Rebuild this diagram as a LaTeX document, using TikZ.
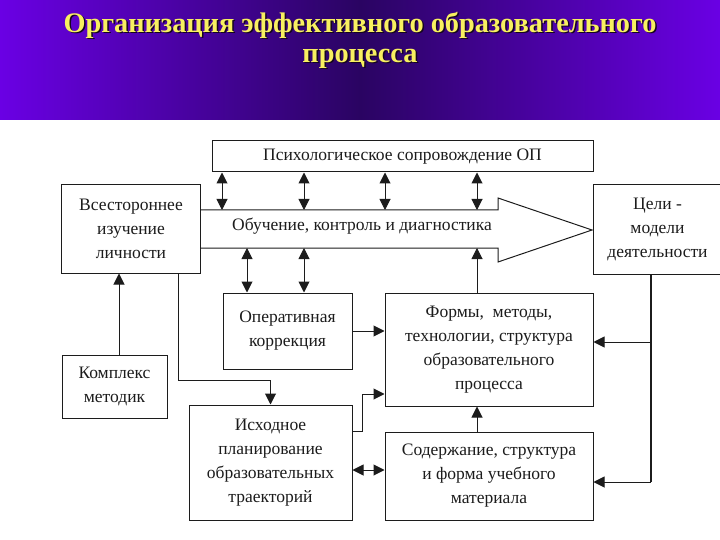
\documentclass[tikz,border=0pt]{standalone}
\usepackage{fontspec}
\setmainfont{Liberation Serif}
\usetikzlibrary{arrows.meta,calc,positioning}
\definecolor{OrgViolet}{HTML}{6A00E4}
\definecolor{OrgNight}{HTML}{2A0462}
\definecolor{OrgYellow}{HTML}{F8F060}
\definecolor{OrgShadow}{HTML}{16061E}
\definecolor{OrgInk}{HTML}{1C1C1C}
\tikzset{
  orgbox/.style={draw=OrgInk,line width=1pt,fill=white,align=center,inner sep=2pt,
    text=OrgInk,font=\fontsize{17.5}{24}\selectfont},
  orglabel/.style={align=center,inner sep=1pt,text=OrgInk,font=\fontsize{17.5}{24}\selectfont},
  orgtitle/.style={align=center,inner sep=0pt,font=\bfseries\fontsize{28.3}{30}\selectfont},
  orglink/.style={draw=OrgInk,line width=1pt,-{Triangle[length=11pt,width=11pt]}},
  orgboth/.style={draw=OrgInk,line width=1pt,
    {Triangle[length=11pt,width=11pt]}-{Triangle[length=11pt,width=11pt]}},
  orgline/.style={draw=OrgInk,line width=1pt}
}

\begin{document}
\begin{tikzpicture}[x=1pt,y=-1pt]
        \useasboundingbox (0,0) rectangle (720,540);

        \shade[left color=OrgViolet,right color=OrgViolet,middle color=OrgNight]
          (0,0) rectangle (720,120);

        \node[orgtitle,text=OrgShadow] (titleshadow) at (361.5,41.5)
          {Организация эффективного образовательного\\процесса};
        \node[orgtitle,text=OrgYellow] (title) at (360,40)
          {Организация эффективного образовательного\\процесса};

        \node[orgbox,minimum width=381,minimum height=31] (psy) at (402.5,156.5)
          {Психологическое сопровождение ОП};
        \node[orgbox,minimum width=139,minimum height=88] (vses) at (131,229)
          {Всестороннее\\изучение\\личности};
        \node[orgbox,minimum width=129,minimum height=89] (tseli) at (657.5,229.5)
          {Цели -\\модели\\деятельности};
        \node[orgbox,minimum width=129,minimum height=76] (oper) at (287.5,331)
          {Оперативная\\коррекция};
        \node[orgbox,minimum width=208,minimum height=113] (formy) at (489,349.5)
          {Формы,\ \ методы,\\технологии, структура\\образовательного\\процесса};
        \node[orgbox,minimum width=208,minimum height=88] (sod) at (489,476)
          {Содержание, структура\\и форма учебного\\материала};
        \node[orgbox,minimum width=105,minimum height=63] (kompl) at (114.5,386.5)
          {Комплекс\\методик};
        \node[orgbox,minimum width=163,minimum height=115] (ishod) at (270.5,462.5)
          {Исходное\\планирование\\образовательных\\траекторий};

        \coordinate (shtop) at (vses.east |- 0,210);
        \coordinate (shbot) at (vses.east |- 0,248);
        \coordinate (tip) at (592,230);
        \draw[orgline] (shtop) -- (498,210) -- (498,198) -- (tip)
          -- (498,262) -- (498,248) -- (shbot);
        \node[orglabel] (learn) at (362,226) {Обучение, контроль и диагностика};

        \foreach \px in {222,304,385,477}{
          \draw[orgboth] (psy.south -| \px,0) -- (shtop -| \px,0);
        }
        \foreach \px in {247,304}{
          \draw[orgboth] (shbot -| \px,0) -- (oper.north -| \px,0);
        }
        \draw[orglink] (formy.north -| 477,0) -- (shbot -| 477,0);
        \draw[orglink] (oper.east) -- (oper.east -| formy.west);
        \draw[orglink] (sod.north -| 477,0) -- (formy.south -| 477,0);
        \draw[orglink] (kompl.north -| 119,0) -- (vses.south -| 119,0);
        \draw[orglink] (vses.south -| 178,0) |- (ishod.north |- 0,380) -- (ishod.north);
        \draw[orglink] (ishod.east |- 0,431) -- ++(10,0) |- (formy.west |- 0,394);
        \draw[orgboth] (ishod.east |- 0,470) -- (sod.west |- 0,470);

        \coordinate (bustop) at (tseli.south -| 651,0);
        \coordinate (busmid) at (651,342);
        \coordinate (busend) at (651,482);
        \draw[orgline,line width=2pt] (bustop) -- (busend);
        \draw[orglink] (busmid) -- (formy.east |- busmid);
        \draw[orglink] (busend) -- (sod.east |- busend);
      \end{tikzpicture}
\end{document}
